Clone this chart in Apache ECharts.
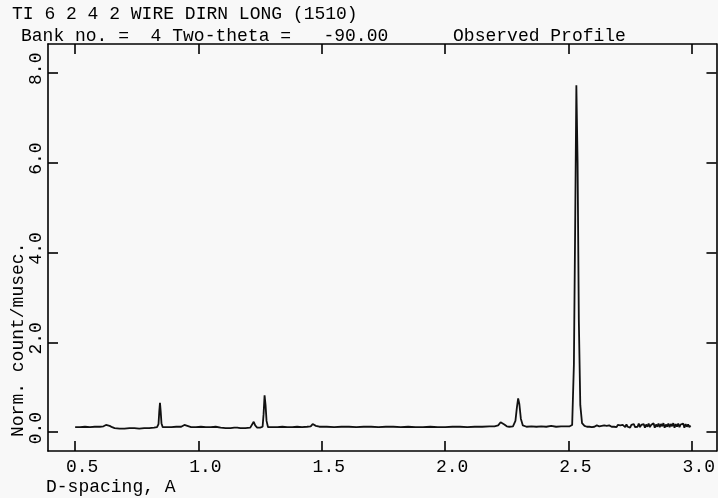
<!DOCTYPE html>
<html>
<head>
<meta charset="utf-8">
<script src="https://cdn.jsdelivr.net/npm/echarts@6/dist/echarts.min.js"></script>
<style>
html,body{margin:0;padding:0;background:#f8f8f8;}
#chart{width:718px;height:498px;}
</style>
</head>
<body>
<div id="chart"></div>
<script>
const titleLine1 = 'TI 6 2 4 2 WIRE DIRN LONG (1510)';
const titleLine2 = 'Bank no. =  4 Two-theta =   -90.00      Observed Profile';
const xAxisName = 'D-spacing, A';
const yAxisName = 'Norm. count/musec.';
const xTicks = [0.5, 1.0, 1.5, 2.0, 2.5, 3.0];
const yTicks = [0, 2, 4, 6, 8];

const dSpacing = [
  0.500,0.520,0.540,0.560,0.580,0.600,0.615,0.625,0.632,0.640,0.650,0.660,0.680,0.700,0.720,0.740,0.760,0.780,0.800,0.820,
  0.832,0.838,0.841,0.844,0.847,0.850,0.855,0.870,0.890,0.910,0.930,0.938,0.943,0.950,0.970,0.990,1.010,1.030,1.050,1.070,
  1.090,1.110,1.130,1.145,1.151,1.157,1.170,1.190,1.210,1.218,1.224,1.230,1.238,1.250,1.260,1.264,1.268,1.272,1.276,1.282,
  1.300,1.320,1.340,1.360,1.380,1.400,1.420,1.440,1.455,1.463,1.469,1.476,1.490,1.520,1.550,1.580,1.610,1.640,1.670,1.700,
  1.730,1.760,1.790,1.820,1.850,1.880,1.910,1.940,1.970,2.000,2.030,2.060,2.090,2.120,2.150,2.180,2.200,2.215,2.225,2.232,
  2.240,2.250,2.260,2.275,2.285,2.291,2.296,2.301,2.307,2.315,2.330,2.350,2.370,2.390,2.410,2.430,2.450,2.470,2.490,2.505,
  2.515,2.522,2.527,2.532,2.537,2.542,2.548,2.555,2.565,
  2.570,2.575,2.580,2.585,2.590,2.595,2.600,2.605,2.610,2.615,2.620,2.625,2.630,2.635,2.640,2.645,2.650,2.655,2.660,2.665,
  2.670,2.675,2.680,2.685,2.690,2.695,2.700,2.705,2.710,2.715,2.720,2.725,2.730,2.735,2.740,2.745,2.750,2.755,2.760,2.765,
  2.770,2.775,2.780,2.785,2.790,2.795,2.800,2.805,2.810,2.815,2.820,2.825,2.830,2.835,2.840,2.845,2.850,2.855,2.860,2.865,
  2.870,2.875,2.880,2.885,2.890,2.895,2.900,2.905,2.910,2.915,2.920,2.925,2.930,2.935,2.940,2.945,2.950,2.955,2.960,2.965,
  2.970,2.975,2.980,2.985,2.990,2.995
];
const intensity = [
  0.11,0.11,0.12,0.11,0.12,0.12,0.13,0.16,0.17,0.14,0.11,0.09,0.08,0.08,0.09,0.09,0.08,0.09,0.09,0.10,
  0.11,0.18,0.45,0.65,0.45,0.20,0.11,0.11,0.11,0.12,0.12,0.15,0.16,0.12,0.11,0.11,0.12,0.11,0.11,0.12,
  0.10,0.09,0.09,0.10,0.13,0.10,0.09,0.09,0.10,0.14,0.23,0.15,0.10,0.10,0.12,0.40,0.82,0.60,0.25,0.11,
  0.11,0.11,0.12,0.11,0.11,0.12,0.11,0.12,0.13,0.18,0.19,0.14,0.12,0.12,0.11,0.12,0.12,0.11,0.12,0.12,
  0.11,0.12,0.12,0.11,0.12,0.11,0.11,0.12,0.11,0.11,0.12,0.12,0.11,0.12,0.12,0.13,0.13,0.15,0.22,0.25,
  0.17,0.13,0.12,0.13,0.25,0.55,0.75,0.62,0.30,0.15,0.12,0.13,0.12,0.13,0.12,0.14,0.12,0.13,0.13,0.13,
  0.16,1.50,4.50,7.72,6.00,2.50,0.60,0.20,0.14,
  0.13,0.12,0.14,0.12,0.13,0.11,0.14,0.12,0.13,0.15,0.12,0.13,0.11,0.14,0.12,0.15,0.12,0.14,0.11,0.15,
  0.13,0.12,0.16,0.12,0.14,0.11,0.16,0.12,0.15,0.11,0.16,0.13,0.11,0.17,0.12,0.15,0.10,0.16,0.13,0.18,
  0.11,0.15,0.12,0.19,0.11,0.16,0.13,0.18,0.10,0.17,0.12,0.19,0.11,0.16,0.14,0.20,0.10,0.17,0.12,0.19,
  0.11,0.18,0.13,0.20,0.10,0.17,0.12,0.19,0.11,0.18,0.13,0.20,0.10,0.18,0.12,0.19,0.11,0.17,0.13,0.19,
  0.10,0.18,0.12,0.17,0.11,0.15
];

const FONT = '"Liberation Mono", "Courier New", monospace';
const INK = '#000';
const profile = dSpacing.map((d, i) => [d, intensity[i]]);

const chart = echarts.init(document.getElementById('chart'), null, {renderer: 'canvas'});

const frameLine = {show: true, onZero: false, lineStyle: {color: INK, width: 1.6}};
const tickStyle = {color: INK, width: 1.6};

chart.setOption({
  backgroundColor: '#f8f8f8',
  animation: false,
  title: [
    {text: titleLine1, left: 12, top: 5, padding: 0,
     textStyle: {fontFamily: FONT, fontSize: 18, fontWeight: 'normal', color: INK}},
    {text: titleLine2, left: 21, top: 27, padding: 0,
     textStyle: {fontFamily: FONT, fontSize: 18, fontWeight: 'normal', color: INK}}
  ],
  grid: {left: 48, right: 1, top: 44, bottom: 47, containLabel: false},
  xAxis: [
    {type: 'value', min: 0.39, max: 3.1, position: 'bottom',
     axisLine: frameLine,
     axisTick: {show: true, inside: true, length: 10, customValues: xTicks, lineStyle: tickStyle},
     axisLabel: {show: true, customValues: xTicks, formatter: v => v.toFixed(1),
                 fontFamily: FONT, fontSize: 18, color: INK, margin: 7, padding: [0, 0, 0, 14]},
     splitLine: {show: false}},
    {type: 'value', min: 0.39, max: 3.1, position: 'top',
     axisLine: frameLine,
     axisTick: {show: true, inside: true, length: 10, customValues: xTicks, lineStyle: tickStyle},
     axisLabel: {show: false},
     splitLine: {show: false}}
  ],
  yAxis: [
    {type: 'value', min: -0.42, max: 8.64, position: 'left',
     axisLine: frameLine,
     axisTick: {show: true, inside: true, length: 10, customValues: yTicks, lineStyle: tickStyle},
     axisLabel: {show: true, customValues: yTicks, formatter: v => v.toFixed(1), rotate: 90,
                 fontFamily: FONT, fontSize: 18, color: INK, margin: 3, padding: [0, 0, 0, 8]},
     splitLine: {show: false}},
    {type: 'value', min: -0.42, max: 8.64, position: 'right',
     axisLine: frameLine,
     axisTick: {show: true, inside: true, length: 10, customValues: yTicks, lineStyle: tickStyle},
     axisLabel: {show: false},
     splitLine: {show: false}}
  ],
  graphic: [
    {type: 'text', left: 46, top: 478,
     style: {text: xAxisName, font: '18px ' + FONT, fill: INK}},
    {type: 'text', x: 18, y: 437, rotation: Math.PI / 2,
     style: {text: yAxisName, font: '18px ' + FONT, fill: INK, align: 'left', verticalAlign: 'middle'}}
  ],
  series: [
    {type: 'line', xAxisIndex: 0, yAxisIndex: 0, data: profile,
     showSymbol: false, symbol: 'none', smooth: false,
     lineStyle: {color: '#111', width: 1.8}}
  ]
});
</script>
</body>
</html>
